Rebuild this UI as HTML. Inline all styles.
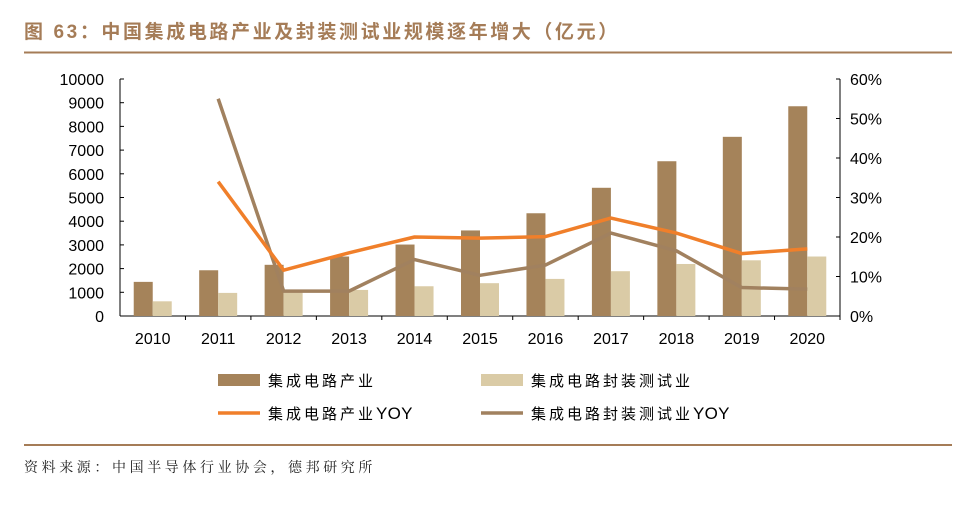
<!DOCTYPE html>
<html><head><meta charset="utf-8"><style>
body{margin:0;background:#fff;width:976px;height:508px;overflow:hidden;font-family:"Liberation Sans","Noto Sans CJK SC",sans-serif}
</style></head><body>
<svg width="976" height="508" xmlns="http://www.w3.org/2000/svg">
<text x="24" y="38" font-size="19" font-weight="bold" fill="#a57c57" letter-spacing="2.6" font-family="Liberation Sans,Noto Sans CJK SC,sans-serif">图 63：中国集成电路产业及封装测试业规模逐年增大（亿元）</text>
<line x1="24" y1="52.5" x2="952" y2="52.5" stroke="#a57c57" stroke-width="2"/>
<line x1="24" y1="445" x2="952" y2="445" stroke="#a57c57" stroke-width="2"/>
<text x="24" y="472" font-size="14" fill="#222" letter-spacing="3.6" font-family="Liberation Sans,Noto Serif CJK SC,serif">资料来源：中国半导体行业协会，德邦研究所</text>
<g id="plot"></g>
<g letter-spacing="3">
<rect x="218" y="374" width="42" height="12" fill="#a5835a"/>
<text x="268" y="386" font-size="15" fill="#000">集成电路产业</text>
<rect x="481" y="374" width="42" height="12" fill="#dacba6"/>
<text x="531" y="386" font-size="15" fill="#000">集成电路封装测试业</text>
<line x1="218" y1="413" x2="260" y2="413" stroke="#f07f2a" stroke-width="3.5"/>
<text x="268" y="419" font-size="15" fill="#000">集成电路产业<tspan letter-spacing="0.3" font-size="17">YOY</tspan></text>
<line x1="481" y1="413" x2="523" y2="413" stroke="#a1815f" stroke-width="3.5"/>
<text x="531" y="419" font-size="15" fill="#000">集成电路封装测试业<tspan letter-spacing="0.3" font-size="17">YOY</tspan></text>
</g>
</svg>
<script>
const years=["2010","2011","2012","2013","2014","2015","2016","2017","2018","2019","2020"];
const icValues=[1440,1930,2160,2510,3015,3610,4335,5410,6530,7560,8850];
const pkgValues=[620,975,1035,1100,1255,1385,1565,1890,2195,2350,2510];
const icYoy=[null,34,11.6,16,20,19.7,20.1,24.8,21,15.8,17];
const pkgYoy=[null,55,6.3,6.3,14.3,10.3,12.9,21,16.5,7.2,6.8];
const leftTicks=[0,1000,2000,3000,4000,5000,6000,7000,8000,9000,10000];
const rightTicks=[0,10,20,30,40,50,60];

const NS="http://www.w3.org/2000/svg";
const g=document.getElementById('plot');
const X0=120,X1=840,Y0=316,Y1=79;
const band=(X1-X0)/years.length;
const xc=i=>X0+band*(i+0.5);
const yL=v=>Y0-(v/10000)*(Y0-Y1);
const yR=v=>Y0-(v/60)*(Y0-Y1);
function mk(tag,attrs,text){const e=document.createElementNS(NS,tag);for(const k in attrs)e.setAttribute(k,attrs[k]);if(text!=null)e.textContent=text;g.appendChild(e);return e;}
let ax=mk('line',{x1:X0,y1:Y1,x2:X0,y2:Y0,stroke:'#000','stroke-width':1});


ax=mk('line',{x1:X1,y1:Y1,x2:X1,y2:Y0,stroke:'#000','stroke-width':1});


ax=mk('line',{x1:X0,y1:Y0,x2:X1,y2:Y0,stroke:'#000','stroke-width':1});


leftTicks.forEach(v=>{const y=yL(v);
 mk('line',{x1:X0,y1:y,x2:X0+4,y2:y,stroke:'#000'});
 const t=mk('text',{x:X0-16,y:y+6,'font-size':16,'text-anchor':'end',fill:'#000'},String(v));
 
 });
rightTicks.forEach(v=>{const y=yR(v);
 mk('line',{x1:X1-4,y1:y,x2:X1,y2:y,stroke:'#000'});
 const t=mk('text',{x:X1+10,y:y+6,'font-size':16,fill:'#000'},v+'%');
 
 });
years.forEach((yr,i)=>{
 mk('line',{x1:X0+band*(i+1),y1:Y0,x2:X0+band*(i+1),y2:Y0+4,stroke:'#000'});
 const t=mk('text',{x:xc(i),y:Y0+28,'font-size':16,'text-anchor':'middle',fill:'#000'},yr);
 
 
 const bw=19;
 const b1=mk('rect',{x:xc(i)-bw,y:yL(icValues[i]),width:bw,height:Y0-yL(icValues[i]),fill:'#a5835a'});
 
 
 const b2=mk('rect',{x:xc(i),y:yL(pkgValues[i]),width:bw,height:Y0-yL(pkgValues[i]),fill:'#dacba6'});
 
 
});
function line(arr,color,name){const pts=[];arr.forEach((v,i)=>{if(v!=null)pts.push(xc(i)+','+yR(v));});
 const p=mk('polyline',{points:pts.join(' '),fill:'none',stroke:color,'stroke-width':3.5,'stroke-linejoin':'round'});
 
 }
line(pkgYoy,'#a1815f','line-pkg-yoy');
line(icYoy,'#f07f2a','line-ic-yoy');
</script>
</body></html>
